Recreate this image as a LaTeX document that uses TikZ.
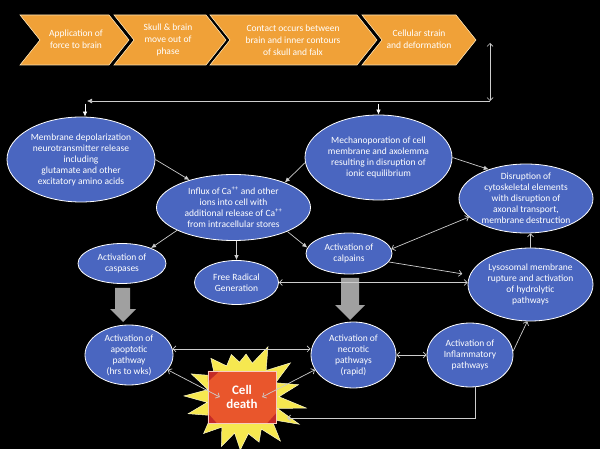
\documentclass[tikz,border=0pt]{standalone}
\usepackage{fontspec}
\setmainfont{Carlito}
\usetikzlibrary{shapes.geometric,arrows.meta,calc}
\definecolor{eblue}{RGB}{74,102,192}
\definecolor{corange}{RGB}{240,161,56}
\definecolor{cedge}{RGB}{250,225,180}
\definecolor{lgray}{RGB}{205,205,205}
\definecolor{bgray}{RGB}{160,160,160}
\definecolor{syellow}{RGB}{246,232,80}
\definecolor{cdred}{RGB}{233,86,44}
\definecolor{cddark}{RGB}{196,42,40}
\begin{document}
\begin{tikzpicture}[x=1pt,y=-1pt,
  ell/.style={ellipse, draw=white, line width=0.8pt, fill=eblue, inner sep=0pt},
  etext/.style={text=white, align=center, inner sep=0pt, font=\fontsize{9.5}{11}\selectfont},
  chev/.style={fill=corange, draw=cedge, line width=0.6pt},
  chevtext/.style={text=white, align=center, inner sep=0pt, font=\fontsize{9.5}{12.2}\selectfont},
  conn/.style={draw=lgray, line width=0.7pt},
  sol/.style={conn, -{Latex[length=5pt,width=4.5pt]}},
  wsol/.style={draw=white, line width=0.7pt, -{Latex[length=5pt,width=4.5pt]}},
  barb/.style={conn, -{Straight Barb[length=3pt,width=6pt]}},
  dbarb/.style={conn, {Straight Barb[length=3pt,width=6pt]}-{Straight Barb[length=3pt,width=6pt]}},
  blockarrow/.style={fill=bgray}
]
\fill[black] (0,0) rectangle (600,449);
\useasboundingbox (0,0) rectangle (600,449);

% chevrons
\filldraw[chev] (20,15) -- (109,15) -- (129,40) -- (109,65) -- (20,65) -- (40,40) -- cycle;
\node[chevtext] (c1) at (76,39) {Application of\\force to brain};
\filldraw[chev] (114,15) -- (206,15) -- (226,40) -- (206,65) -- (114,65) -- (134,40) -- cycle;
\node[chevtext] (c2) at (168,40) {Skull \& brain\\move out of\\phase};
\filldraw[chev] (210,15) -- (357,15) -- (377,40) -- (357,65) -- (210,65) -- (230,40) -- cycle;
\node[chevtext] (c3) at (293,40) {Contact occurs between\\brain and inner contours\\of skull and falx};
\filldraw[chev] (362,15) -- (456,15) -- (476,40) -- (456,65) -- (362,65) -- (382,40) -- cycle;
\node[chevtext] (c4) at (419,39) {Cellular strain\\and deformation};

% ellipses
\node[ell, minimum width=148pt, minimum height=85pt] (e1) at (81,159.5) {};
\node[etext] (e1t) at (e1) {Membrane depolarization\\neurotransmitter release\\including\\glutamate and other\\excitatory amino acids};
\node[ell, minimum width=154pt, minimum height=66pt] (e2) at (233.5,207.5) {};
\node[etext] (e2t) at (e2) {Influx of Ca\textsuperscript{++} and other\\ions into cell with\\additional release of Ca\textsuperscript{++}\\from intracellular stores};
\node[ell, minimum width=147pt, minimum height=85pt] (e3) at (378.5,157.5) {};
\node[etext] (e3t) at (e3) {Mechanoporation of cell\\membrane and axolemma\\resulting in disruption of\\ionic equilibrium};
\node[ell, minimum width=134pt, minimum height=69pt] (e4) at (526,198.5) {};
\node[etext] (e4t) at (e4) {Disruption of\\cytoskeletal elements\\with disruption of\\axonal transport,\\membrane destruction};
\node[ell, minimum width=88pt, minimum height=40pt] (casp) at (122,263.5) {};
\node[etext] (caspt) at (casp) {Activation of\\caspases};
\node[ell, minimum width=84pt, minimum height=44pt] (fr) at (236.5,282.5) {};
\node[etext] (frt) at (fr) {Free Radical\\Generation};
\node[ell, minimum width=86pt, minimum height=41pt] (calp) at (349,253.5) {};
\node[etext] (calpt) at (calp) {Activation of\\calpains};
\node[ell, minimum width=125pt, minimum height=73pt] (lys) at (530.5,284.5) {};
\node[etext] (lyst) at (lys) {Lysosomal membrane\\rupture and activation\\of hydrolytic\\pathways};
\node[ell, minimum width=88pt, minimum height=60pt] (apop) at (129,355) {};
\node[etext] (apopt) at (apop) {Activation of\\apoptotic\\pathway\\(hrs to wks)};
\node[ell, minimum width=85pt, minimum height=66pt] (necro) at (353.5,355) {};
\node[etext] (necrot) at (necro) {Activation of\\necrotic\\pathways\\(rapid)};
\node[ell, minimum width=86pt, minimum height=64pt] (infl) at (470,355) {};
\node[etext] (inflt) at (infl) {Activation of\\Inflammatory\\pathways};

% block arrows
\fill[blockarrow] (115,288) -- (130,288) -- (130,309) -- (136,309) -- (123,322) -- (110,309) -- (115,309) -- cycle;
\fill[blockarrow] (341,278) -- (359,278) -- (359,305) -- (365,305) -- (350,320) -- (335,305) -- (341,305) -- cycle;

% star
\coordinate (sc) at (243,398);
\filldraw[fill=syellow, draw=white!70!syellow, line width=0.5pt]
  ($(sc)+(9:64)$) -- ($(sc)+(-2:36)$) --
  ($(sc)+(-13.5:57)$) -- ($(sc)+(-25:36)$) --
  ($(sc)+(-36.5:59)$) -- ($(sc)+(-50:36)$) --
  ($(sc)+(-64:57)$) -- ($(sc)+(-75:36)$) --
  ($(sc)+(-86:44)$) -- ($(sc)+(-95.5:36)$) --
  ($(sc)+(-105:45)$) -- ($(sc)+(-117:36)$) --
  ($(sc)+(-129:51)$) -- ($(sc)+(-142:36)$) --
  ($(sc)+(-155:57)$) -- ($(sc)+(-166.5:36)$) --
  ($(sc)+(-178:59)$) -- ($(sc)+(-187:36)$) --
  ($(sc)+(-196:57)$) -- ($(sc)+(-209:36)$) --
  ($(sc)+(-222:53)$) -- ($(sc)+(-234:36)$) --
  ($(sc)+(-246:53)$) -- ($(sc)+(-256.5:36)$) --
  ($(sc)+(-267:52)$) -- ($(sc)+(-278.5:36)$) --
  ($(sc)+(-290:47)$) -- ($(sc)+(-300.5:36)$) --
  ($(sc)+(-311:57)$) -- ($(sc)+(-323:36)$) --
  ($(sc)+(-335:62)$) -- ($(sc)+(-343:36)$) -- cycle;

% cell death box
\node[fill=cdred, minimum width=68pt, minimum height=52pt, inner sep=0pt] (cd) at (242,397) {};
\fill[cddark] (cd.north west) -- ++(12,0) -- ++(-12,11) -- cycle;
\fill[cddark] (cd.south west) -- ++(9,0) -- ++(-9,-10) -- cycle;
\fill[cddark] (cd.south east) -- ++(-9,0) -- ++(9,-10) -- cycle;
\draw[white!70!cdred, line width=0.5pt] (cd.north west) rectangle (cd.south east);
\node[text=white, align=center, inner sep=0pt, font=\bfseries\fontsize{13}{14}\selectfont] (cdt) at (cd) {Cell\\death};

% connectors
\coordinate (ttop) at (490,43);
\coordinate (tr) at (490,101);
\coordinate (tl) at (87,101);
\draw[dbarb] (ttop) -- (tr);
\draw[conn, -{Latex[length=5pt,width=5pt]}] (tr) -- (tl);
\draw[wsol] ([shift={(4pt,13pt)}]e1.north) -- ([xshift=4pt]e1.north);
\draw[wsol] ([yshift=11pt]e3.north) -- (e3.north);
\draw[sol] (e1.east) -- (e2.148);
\draw[sol] (e3.184) -- (e2.26);
\draw[sol] (e3.east) -- (e4.142);
\draw[sol] (e2.202) -- (casp.28);
\draw[sol] (fr.north |- e2.south) -- (fr.north);
\draw[sol] (e2.-24) -- (calp.172);
\draw[dbarb] (calp.6) -- (e4.198);
\draw[barb] (calp.-12) -- ([xshift=-8pt]lys.170);
\draw[dbarb] (fr.east) -- (fr.east -| lys.west);
\draw[barb] (lys.north) -- (lys.north |- e4.south);
\draw[barb] (infl.5) -- (lys.-95);
\draw[dbarb] (necro.east) -- (infl.west);
\draw[dbarb] (apop.8) -- (apop.8 -| necro.west);
\draw[dbarb] (apop.-21) -- ([xshift=12pt]cd.west);
\draw[dbarb] (necro.201) -- ([xshift=-14pt]cd.east);
\draw[barb] (infl.-80) |- ([shift={(11pt,-21pt)}]cd.east);
\end{tikzpicture}
\end{document}
